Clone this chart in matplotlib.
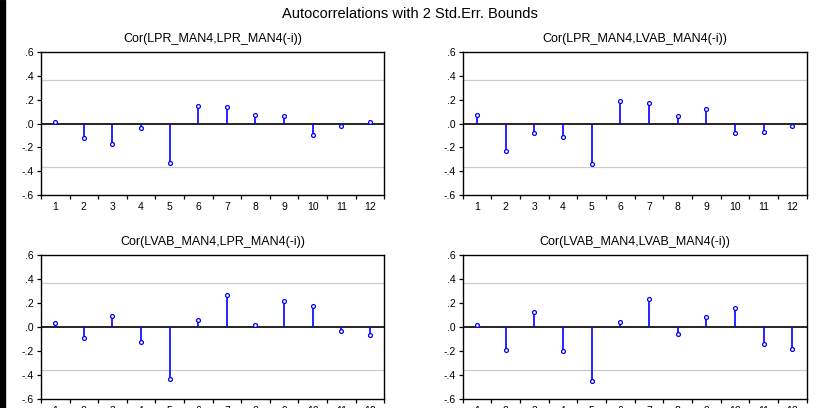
import matplotlib
matplotlib.use("Agg")
import matplotlib.pyplot as plt
import numpy as np
from matplotlib.patches import Rectangle

plt.rcParams["font.family"] = ["Liberation Sans", "DejaVu Sans"]

lags = list(range(1, 13))
bound = 0.365

titles = [
    "Cor(LPR_MAN4,LPR_MAN4(-i))",
    "Cor(LPR_MAN4,LVAB_MAN4(-i))",
    "Cor(LVAB_MAN4,LPR_MAN4(-i))",
    "Cor(LVAB_MAN4,LVAB_MAN4(-i))",
]
lpr_lpr = [0.014, -0.120, -0.168, -0.034, -0.334, 0.146, 0.135, 0.073, 0.062, -0.098, -0.017, 0.011]
lpr_lvab = [0.073, -0.227, -0.081, -0.109, -0.339, 0.190, 0.174, 0.064, 0.120, -0.081, -0.073, -0.022]
lvab_lpr = [0.034, -0.090, 0.090, -0.127, -0.433, 0.054, 0.266, 0.014, 0.218, 0.173, -0.031, -0.068]
lvab_lvab = [0.014, -0.190, 0.126, -0.202, -0.451, 0.039, 0.236, -0.059, 0.084, 0.160, -0.140, -0.188]
series = [lpr_lpr, lpr_lvab, lvab_lpr, lvab_lvab]

yticks = [-0.6, -0.4, -0.2, 0.0, 0.2, 0.4, 0.6]
ytick_labels = ["-.6", "-.4", "-.2", ".0", ".2", ".4", ".6"]

fig = plt.figure(figsize=(8.19, 4.08), dpi=100)
# dark strip along the left edge of the original screenshot
fig.patches.append(Rectangle((0, 0), 0.006, 1, transform=fig.transFigure, color="black"))
fig.text(0.5, 0.965, "Autocorrelations with 2 Std.Err. Bounds", ha="center", va="center", fontsize=10.5)

positions = [
    [0.050, 0.522, 0.419, 0.3505],
    [0.565, 0.522, 0.420, 0.3505],
    [0.050, 0.023, 0.419, 0.352],
    [0.565, 0.023, 0.420, 0.352],
]

for pos, title, values in zip(positions, titles, series):
    ax = fig.add_axes(pos)
    ax.axhline(bound, color="#cccccc", linewidth=0.9, zorder=1)
    ax.axhline(-bound, color="#cccccc", linewidth=0.9, zorder=1)
    ax.axhline(0, color="black", linewidth=1.2, zorder=2)
    ax.vlines(lags, 0, values, color="#0000ff", linewidth=1.2, zorder=3)
    ax.plot(lags, values, "o", markersize=2.8, markerfacecolor="white",
            markeredgecolor="#0000ff", markeredgewidth=0.9, zorder=4)
    ax.set_xlim(0.5, 12.5)
    ax.set_ylim(-0.6, 0.6)
    ax.set_yticks(yticks)
    ax.set_yticklabels(ytick_labels)
    ax.set_xticks(lags)
    ax.set_xticks(np.arange(0.5, 13, 1), minor=True)
    ax.tick_params(axis="x", which="major", length=0, labelsize=7.5, pad=5)
    ax.tick_params(axis="x", which="minor", length=3, direction="out", width=0.9)
    ax.tick_params(axis="y", length=3, direction="out", labelsize=7.5, pad=2, width=0.9)
    for spine in ax.spines.values():
        spine.set_linewidth(1.0)
    ax.set_title(title, fontsize=9, pad=7)

fig.savefig("out.png", dpi=100)
